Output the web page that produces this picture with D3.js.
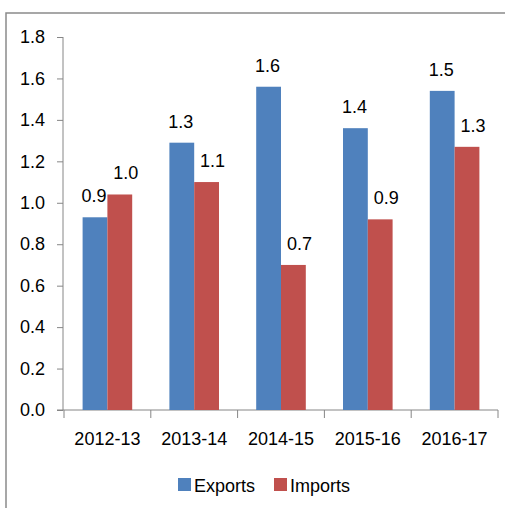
<!DOCTYPE html>
<html>
<head>
<meta charset="utf-8">
<script src="https://cdn.jsdelivr.net/npm/d3@7"></script>
<style>
  body { margin: 0; background: #fff; }
  text { font-family: "Liberation Sans", Arial, sans-serif; fill: #000; }
</style>
</head>
<body>
<script>
// data
var years = ["2012-13", "2013-14", "2014-15", "2015-16", "2016-17"];
var exportsVals = [0.93, 1.29, 1.56, 1.36, 1.54];
var importsVals = [1.04, 1.10, 0.70, 0.92, 1.27];
var seriesNames = ["Exports", "Imports"];
var yTicks = [0, 0.2, 0.4, 0.6, 0.8, 1.0, 1.2, 1.4, 1.6, 1.8];

var colors = {Exports: "#4f81bd", Imports: "#c0504d"};
var axisColor = "#868686";
var fontSize = "18px";

var w = 505, h = 508;
var margin = {top: 37, bottom: 98, left: 64, right: 7};

var svg = d3.select("body").append("svg")
    .attr("width", w)
    .attr("height", h);

// frame of the chart (only top and left edges are in view)
svg.append("rect")
    .attr("x", 6).attr("y", 13)
    .attr("width", 520).attr("height", 520)
    .attr("fill", "none")
    .attr("stroke", "#8a8a8a")
    .attr("stroke-width", 1.5);

var x = d3.scaleBand()
    .domain(years)
    .range([margin.left, w - margin.right]);

// Excel style: gap width 150% between groups
var x1 = d3.scaleBand()
    .domain(seriesNames)
    .range([0, x.bandwidth()])
    .paddingOuter(0.75)
    .paddingInner(0);

var y = d3.scaleLinear()
    .domain([0, 1.8])
    .range([h - margin.bottom, margin.top]);

var rows = years.map(function(d, i) {
  return {year: d, values: [
    {key: "Exports", value: exportsVals[i]},
    {key: "Imports", value: importsVals[i]}
  ]};
});

// y axis
var yAxis = d3.axisLeft(y)
    .tickValues(yTicks)
    .tickFormat(d3.format(".1f"))
    .tickSize(6)
    .tickPadding(12);

var gy = svg.append("g")
    .attr("transform", "translate(" + (margin.left - 1) + ",0)")
    .call(yAxis);
gy.selectAll("path, line").attr("stroke", axisColor);
gy.select(".domain").attr("d", "M0," + y(0) + "V" + (y(1.8)));
gy.selectAll("text").style("font-size", fontSize).attr("fill", "#000");

// x axis
var xAxis = d3.axisBottom(x)
    .tickSize(8)
    .tickPadding(14);

var gx = svg.append("g")
    .attr("transform", "translate(0," + y(0) + ")")
    .call(xAxis);
gx.select(".domain")
    .attr("stroke", axisColor)
    .attr("d", "M" + (margin.left - 7) + ",0H" + (w - margin.right));
gx.selectAll(".tick line").remove();
gx.selectAll(".tick text").style("font-size", fontSize).attr("fill", "#000");

// category separators
svg.append("g").selectAll("line")
    .data(years.concat(["end"]))
    .enter()
    .append("line")
    .attr("x1", function(d, i) { return i < years.length ? x(d) : x.range()[1]; })
    .attr("x2", function(d, i) { return i < years.length ? x(d) : x.range()[1]; })
    .attr("y1", y(0))
    .attr("y2", y(0) + 8)
    .attr("stroke", axisColor);

var groups = svg.selectAll(".grp")
    .data(rows)
    .enter()
    .append("g")
    .attr("class", "grp")
    .attr("transform", function(d) { return "translate(" + x(d.year) + ",0)"; });

groups.selectAll("rect")
    .data(function(d) { return d.values; })
    .enter()
    .append("rect")
    .attr("x", function(d) { return x1(d.key); })
    .attr("width", x1.bandwidth())
    .attr("y", function(d) { return y(d.value); })
    .attr("height", function(d) { return y(0) - y(d.value); })
    .attr("fill", function(d) { return colors[d.key]; });

groups.selectAll(".val-label")
    .data(function(d) { return d.values; })
    .enter()
    .append("text")
    .attr("class", "val-label")
    .attr("x", function(d) {
      return x1(d.key) + x1.bandwidth() / 2 + (d.key == "Imports" ? 6 : -1);
    })
    .attr("y", function(d) { return y(d.value) - 15; })
    .attr("text-anchor", "middle")
    .style("font-size", fontSize)
    .text(function(d) { return d3.format(".1f")(d.value); });

// legend
var legend = svg.append("g")
    .attr("transform", "translate(178,478)");

var legX = [0, 96];
seriesNames.forEach(function(name, i) {
  legend.append("rect")
      .attr("x", legX[i])
      .attr("y", 0)
      .attr("width", 13)
      .attr("height", 13)
      .attr("fill", colors[name]);
  legend.append("text")
      .attr("x", legX[i] + 16)
      .attr("y", 14)
      .style("font-size", fontSize)
      .text(name);
});
</script>
</body>
</html>
